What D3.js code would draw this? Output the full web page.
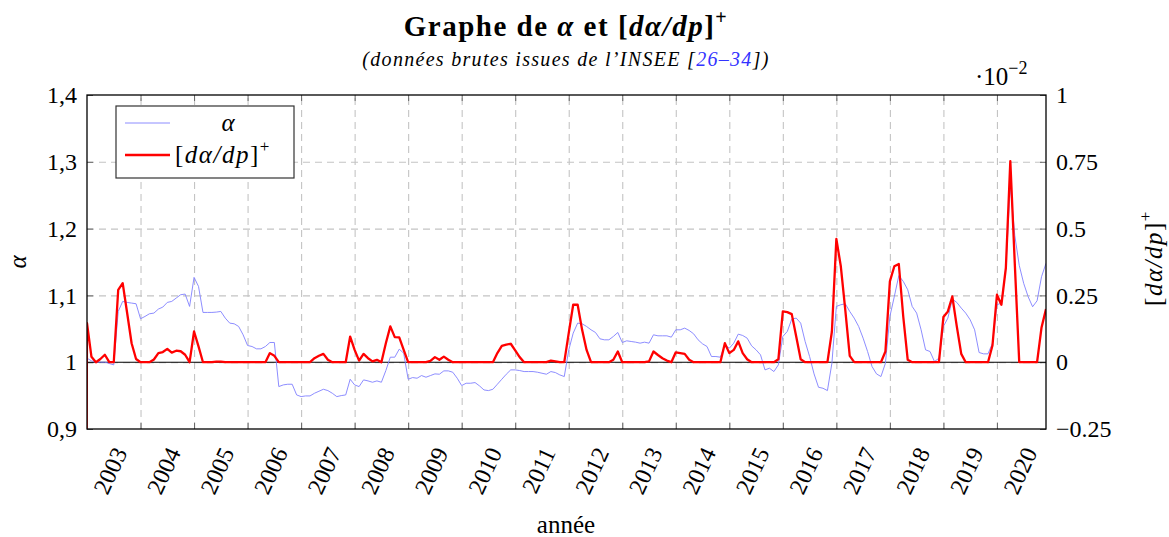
<!DOCTYPE html>
<html>
<head>
<meta charset="utf-8">
<script src="https://cdn.jsdelivr.net/npm/d3@7"></script>
<style>
  body { margin: 0; background: #fff; }
  svg { display: block; font-family: "Liberation Serif", "DejaVu Serif", serif; }
  text { font-family: "Liberation Serif", "DejaVu Serif", serif; }
  .grid line { stroke: #c4c4c4; stroke-width: 1.1; stroke-dasharray: 7,5; }
  .grid path { display: none; }
  .ticks path { display: none; }
  .ticks line { stroke: #666; stroke-width: 1; }
  .ticks text { font-size: 24px; fill: #000; }
  .math { letter-spacing: 1.5px; }
</style>
</head>
<body>
<svg width="1169" height="537"></svg>
<script>
// monthly values, alpha starts Jan 2002, derivative starts Dec 2001
const alphaStart = 2002;
const deriveeStart = 2001 + 11 / 12;

const alpha = [
  1.006, 1.002, 1.000, 1.000, 1.000, 0.998, 0.996, 1.076, 1.091, 1.0895, 1.0885, 1.0875,
  1.065, 1.0685, 1.0725, 1.0735, 1.0795, 1.0825, 1.0895, 1.091, 1.096, 1.101, 1.102, 1.0835,
  1.127, 1.1135, 1.0745, 1.0745, 1.0745, 1.075, 1.076, 1.066, 1.0585, 1.0575, 1.0535, 1.041,
  1.025, 1.0235, 1.02, 1.02, 1.0235, 1.0295, 1.0295, 0.9635, 0.966, 0.967, 0.967, 0.951,
  0.9485, 0.9495, 0.9495, 0.9535, 0.9565, 0.9595, 0.9575, 0.9535, 0.9485, 0.950, 0.951, 0.9745,
  0.966, 0.9635, 0.9735, 0.972, 0.970, 0.972, 0.970, 0.9875, 1.0075, 1.0075, 1.0195, 1.0135,
  0.9745, 0.977, 0.976, 0.980, 0.9775, 0.980, 0.9825, 0.982, 0.987, 0.987, 0.985, 0.976,
  0.965, 0.9685, 0.9685, 0.9695, 0.9645, 0.9585, 0.9575, 0.9595, 0.967, 0.9745, 0.982, 0.9885,
  0.9885, 0.9875, 0.986, 0.986, 0.986, 0.985, 0.9835, 0.982, 0.986, 0.9845, 0.981, 0.9785,
  1.018, 1.0435, 1.0585, 1.0575, 1.0535, 1.0485, 1.0445, 1.035, 1.0335, 1.0335, 1.0385, 1.0445,
  1.0295, 1.032, 1.031, 1.030, 1.0285, 1.030, 1.0285, 1.041, 1.0395, 1.0395, 1.0395, 1.0375,
  1.0485, 1.0485, 1.051, 1.0475, 1.0425, 1.0335, 1.0275, 1.0235, 1.0085, 1.0085, 1.0075, 1.026,
  1.021, 1.0285, 1.042, 1.040, 1.036, 1.0245, 1.0185, 1.011, 0.9885, 0.991, 0.986, 0.996,
  1.0385, 1.046, 1.0645, 1.066, 1.0585, 1.031, 1.0085, 0.9825, 0.9625, 0.961, 0.9575, 0.9985,
  1.0835, 1.086, 1.0875, 1.076, 1.066, 1.0535, 1.036, 1.016, 0.9935, 0.9825, 0.9785, 0.9985,
  1.0685, 1.0985, 1.1295, 1.121, 1.1085, 1.0835, 1.0735, 1.0485, 1.0185, 1.016, 1.001, 1.006,
  1.0535, 1.066, 1.0945, 1.0895, 1.081, 1.0735, 1.0635, 1.0485, 1.0145, 1.0125, 1.0125, 1.0285,
  1.086, 1.0885, 1.141, 1.265, 1.19, 1.145, 1.118, 1.098, 1.083, 1.092, 1.128, 1.148
];

// [dα/dp]+ in units of 10^-2
const derivee = [
  -5,
  0.146, 0.02, 0, 0.012, 0.028, 0, 0, 0.271, 0.296, 0.184, 0.071, 0.012,
  0, 0, 0, 0.01, 0.034, 0.038, 0.05, 0.036, 0.043, 0.041, 0.028, 0,
  0.115, 0.059, 0, 0, 0, 0.002, 0.002, 0, 0, 0, 0, 0,
  0, 0, 0, 0, 0, 0.034, 0.024, 0, 0, 0, 0, 0,
  0, 0, 0, 0.015, 0.024, 0.031, 0.009, 0, 0, 0, 0, 0.096,
  0.046, 0.006, 0.031, 0.015, 0.003, 0.009, 0, 0.071, 0.134, 0.094, 0.093, 0.046,
  0, 0, 0, 0, 0, 0.005, 0.019, 0.009, 0.021, 0.009, 0, 0,
  0, 0, 0, 0, 0, 0, 0, 0, 0.034, 0.061, 0.066, 0.069,
  0.044, 0.019, 0, 0, 0, 0, 0, 0, 0.006, 0.003, 0, 0,
  0.109, 0.215, 0.215, 0.121, 0.046, 0, 0, 0, 0, 0, 0.009, 0.04,
  0, 0, 0, 0, 0, 0, 0.003, 0.04, 0.027, 0.015, 0.006, 0,
  0.037, 0.034, 0.031, 0.009, 0, 0, 0, 0, 0, 0, 0, 0.071,
  0.034, 0.046, 0.078, 0.034, 0.011, 0, 0, 0, 0, 0, 0, 0.011,
  0.19, 0.1875, 0.18, 0.096, 0.011, 0, 0, 0, 0, 0, 0, 0.115,
  0.461, 0.359, 0.196, 0.024, 0, 0, 0, 0, 0, 0, 0, 0.04,
  0.3025, 0.359, 0.3675, 0.17, 0.009, 0, 0, 0, 0, 0, 0, 0,
  0.169, 0.19, 0.246, 0.134, 0.031, 0, 0, 0, 0, 0, 0, 0.0625,
  0.2525, 0.215, 0.3525, 0.7525, 0.37, 0, 0, 0, 0, 0, 0.13, 0.199
];

const yearTicks = d3.range(2003, 2020);
const yearLabels = d3.range(2003, 2021);
const alphaTicks = [0.9, 1, 1.1, 1.2, 1.3, 1.4];
const deriveeTicks = [-0.25, 0, 0.25, 0.5, 0.75, 1];

const svg = d3.select("svg");
const margin = {left: 87, top: 95, right: 123, bottom: 108};
const width = 1169 - margin.left - margin.right;
const height = 537 - margin.top - margin.bottom;

const x = d3.scaleLinear().domain([alphaStart, alphaStart + (alpha.length - 1) / 12]).range([0, width]);
const yL = d3.scaleLinear().domain([0.9, 1.4]).range([height, 0]);
const yR = d3.scaleLinear().domain([-0.25, 1]).range([height, 0]);

const g = svg.append("g").attr("transform", `translate(${margin.left},${margin.top})`);

svg.append("defs").append("clipPath").attr("id", "plot")
  .append("rect").attr("width", width).attr("height", height);

// grid
g.append("g").attr("class", "grid")
  .attr("transform", `translate(0,${height})`)
  .call(d3.axisBottom(x).tickValues(yearTicks).tickSize(-height).tickFormat(""));
g.append("g").attr("class", "grid")
  .call(d3.axisLeft(yL).tickValues(alphaTicks.slice(1, -1)).tickSize(-width).tickFormat(""));

// inner tick marks
g.append("g").attr("class", "ticks")
  .attr("transform", `translate(0,${height})`)
  .call(d3.axisBottom(x).tickValues(yearTicks).tickSize(-6).tickFormat(""));
g.append("g").attr("class", "ticks")
  .call(d3.axisTop(x).tickValues(yearTicks).tickSize(-6).tickFormat(""));

const frac = d => d3.format("~g")(d).replace(".", ",");
g.append("g").attr("class", "ticks")
  .call(d3.axisLeft(yL).tickValues(alphaTicks).tickSize(-6).tickPadding(10).tickFormat(frac));
g.append("g").attr("class", "ticks")
  .attr("transform", `translate(${width},0)`)
  .call(d3.axisRight(yR).tickValues(deriveeTicks).tickSize(-6).tickPadding(10).tickFormat(d3.format("~g")));

// rotated year labels
g.append("g").selectAll("text")
  .data(yearLabels)
  .join("text")
    .attr("transform", d => `translate(${x(d) - 20},${height + 20}) rotate(-65)`)
    .attr("text-anchor", "end")
    .attr("dominant-baseline", "central")
    .style("font-size", "24px")
    .text(d => d);

// zero line of the right axis
g.append("line")
  .attr("x1", 0).attr("x2", width)
  .attr("y1", yR(0)).attr("y2", yR(0))
  .attr("stroke", "#000").attr("stroke-width", 1.1);

const plot = g.append("g").attr("clip-path", "url(#plot)");

plot.append("path")
  .datum(alpha)
  .attr("fill", "none")
  .attr("stroke", "#8080ff")
  .attr("stroke-width", 0.9)
  .attr("d", d3.line().x((d, i) => x(alphaStart + i / 12)).y(d => yL(d)));

plot.append("path")
  .datum(derivee)
  .attr("fill", "none")
  .attr("stroke", "#ff0000")
  .attr("stroke-width", 2.3)
  .attr("stroke-linejoin", "round")
  .attr("d", d3.line().x((d, i) => x(deriveeStart + i / 12)).y(d => yR(d)));

// frame
g.append("rect")
  .attr("width", width).attr("height", height)
  .attr("fill", "none").attr("stroke", "#000").attr("stroke-width", 1.3);

// legend
const leg = g.append("g").attr("transform", "translate(29,11)");
leg.append("rect").attr("width", 178).attr("height", 72)
  .attr("fill", "#fff").attr("stroke", "#333").attr("stroke-width", 1.2);
leg.append("line").attr("x1", 9).attr("x2", 54).attr("y1", 17).attr("y2", 17)
  .attr("stroke", "#8080ff").attr("stroke-width", 0.9);
leg.append("line").attr("x1", 9).attr("x2", 54).attr("y1", 49).attr("y2", 49)
  .attr("stroke", "#ff0000").attr("stroke-width", 2.3);
leg.append("text").attr("x", 112).attr("y", 25).attr("text-anchor", "middle")
  .style("font-size", "25px").style("font-style", "italic").text("α");
const l2 = leg.append("text").attr("class", "math").attr("x", 59).attr("y", 57).style("font-size", "25px");
l2.append("tspan").text("[");
l2.append("tspan").style("font-style", "italic").text("dα/dp");
l2.append("tspan").text("]");
l2.append("tspan").attr("dy", -11).style("font-size", "17px").text("+");

// titles
const title = svg.append("text").attr("x", 566).attr("y", 36)
  .attr("text-anchor", "middle").style("font-size", "29px").style("font-weight", "bold")
  .style("letter-spacing", "1.5px");
title.append("tspan").text("Graphe de ");
title.append("tspan").style("font-style", "italic").text("α");
title.append("tspan").text(" et [");
title.append("tspan").style("font-style", "italic").text("dα/dp");
title.append("tspan").text("]");
title.append("tspan").attr("dy", -12).style("font-size", "20px").text("+");

const sub = svg.append("text").attr("x", 566).attr("y", 66)
  .attr("text-anchor", "middle").style("font-size", "20px").style("font-style", "italic")
  .style("letter-spacing", "1.3px");
sub.append("tspan").text("(données brutes issues de l’INSEE [");
sub.append("tspan").attr("fill", "#3333ff").text("26–34");
sub.append("tspan").text("])");

// axis labels
svg.append("text").attr("x", 566).attr("y", 533).attr("text-anchor", "middle")
  .style("font-size", "25px").text("année");

svg.append("text").attr("transform", "translate(26,262) rotate(-90)")
  .attr("text-anchor", "middle").style("font-size", "25px").style("font-style", "italic").text("α");

const rl = svg.append("text").attr("class", "math").attr("transform", "translate(1162,258) rotate(-90)")
  .attr("text-anchor", "middle").style("font-size", "25px");
rl.append("tspan").text("[");
rl.append("tspan").style("font-style", "italic").text("dα/dp");
rl.append("tspan").text("]");
rl.append("tspan").attr("dy", -11).style("font-size", "17px").text("+");

const exp = svg.append("text").attr("x", 975).attr("y", 85).style("font-size", "25px");
exp.append("tspan").text("·10");
exp.append("tspan").attr("dy", -11).style("font-size", "18px").text("−2");
</script>
</body>
</html>
